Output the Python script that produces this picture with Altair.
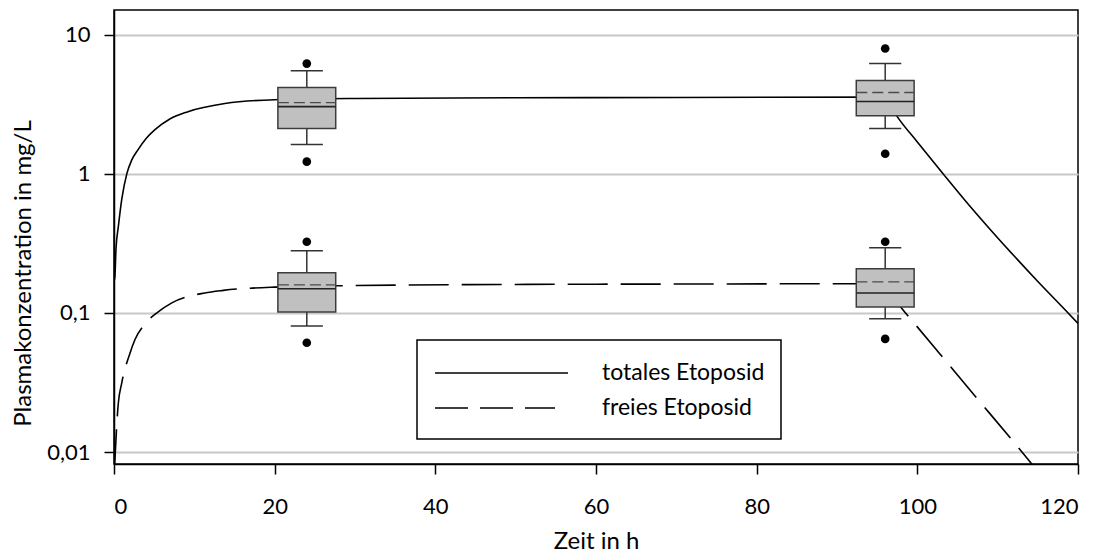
import altair as alt
import pandas as pd

# ---- data ----
total_time = [0, 0.1, 0.25, 0.54, 0.96, 1.6, 2.2, 3.0, 4.0, 5.1, 7.0, 9.2, 13.8, 20, 30, 50, 70, 96, 97.5, 100, 103.2, 106, 109.1, 112, 115, 118, 120]
total_conc = [0.17, 0.179, 0.29, 0.416, 0.65, 1.0, 1.25, 1.49, 1.79, 2.07, 2.48, 2.79, 3.19, 3.40, 3.47, 3.51, 3.53, 3.55, 2.57, 1.69, 1.0, 0.637, 0.396, 0.258, 0.168, 0.111, 0.084]

free_time = [0.05, 0.54, 0.96, 2.0, 2.6, 4.0, 5.5, 7.2, 11.3, 13.6, 20, 30, 50, 70, 96, 98.1, 99.4, 102.6, 107.1, 112, 114.4, 116]
free_conc = [0.0075, 0.0225, 0.0313, 0.0515, 0.064, 0.085, 0.1016, 0.118, 0.139, 0.145, 0.153, 0.157, 0.160, 0.161, 0.162, 0.107, 0.0871, 0.0524, 0.0256, 0.0118, 0.0080, 0.0062]

box_time = [24, 96, 24, 96]
box_q1 = [2.11, 2.61, 0.1016, 0.110]
box_q3 = [4.16, 4.67, 0.194, 0.207]
box_median = [3.03, 3.30, 0.149, 0.139]
box_mean = [3.24, 3.83, 0.159, 0.167]
whisker_lo = [1.62, 2.11, 0.0805, 0.0906]
whisker_hi = [5.5, 6.18, 0.279, 0.294]
outlier_lo = [1.22, 1.39, 0.061, 0.065]
outlier_hi = [6.18, 7.93, 0.324, 0.324]

x_ticks = [0, 20, 40, 60, 80, 100, 120]
y_ticks = [0.01, 0.1, 1, 10]
legend_labels = ["totales Etoposid", "freies Etoposid"]

# ---- styling ----
FONT = "Lato"
FS = 22
FS_TITLE = 24
FS_LEG = 23
BOX_HALF = 3.6   # hours
CAP_HALF = 2.0   # hours

total_df = pd.DataFrame({"t": total_time, "c": total_conc})
free_df = pd.DataFrame({"t": free_time, "c": free_conc})
box_df = pd.DataFrame({
    "t": box_time, "q1": box_q1, "q3": box_q3, "med": box_median, "mean": box_mean,
    "wlo": whisker_lo, "whi": whisker_hi,
})
out_df = pd.DataFrame({
    "t": box_time * 2,
    "v": outlier_lo + outlier_hi,
})

x_scale = alt.Scale(domain=[0, 120], nice=False, zero=False)
y_scale = alt.Scale(type="log", domain=[0.0082, 15], nice=False)

x_axis = alt.Axis(
    values=x_ticks, title="Zeit in h", grid=False, tickSize=10, labelPadding=22,
    labelFont=FONT, labelFontSize=FS, titleFont=FONT, titleFontSize=FS_TITLE,
    titleFontWeight="normal", labelColor="black", titleColor="black",
    domainColor="black", tickColor="black", domainWidth=1.5, tickWidth=1.5,
    titleY=84, titleBaseline="alphabetic",
)
y_axis = alt.Axis(
    values=y_ticks, title="Plasmakonzentration in mg/L", grid=True,
    gridColor="#c8c8c8", gridWidth=2, tickSize=10, labelPadding=14,
    labelExpr="replace(toString(datum.value), '.', ',')",
    labelFont=FONT, labelFontSize=FS, titleFont=FONT, titleFontSize=FS_TITLE,
    titleFontWeight="normal", labelColor="black", titleColor="black",
    domainColor="black", tickColor="black", domainWidth=1.5, tickWidth=1.5,
    titleAngle=270, titleX=-84, titleY=263, titleBaseline="alphabetic", titleAlign="center",
)

def X(field):
    return alt.X(field, type="quantitative", scale=x_scale, axis=x_axis)

def Y(field):
    return alt.Y(field, type="quantitative", scale=y_scale, axis=y_axis)

total_line = alt.Chart(total_df).mark_line(
    color="black", strokeWidth=1.6, interpolate="monotone", clip=True
).encode(x=X("t"), y=Y("c"), order="t:Q")

free_line = alt.Chart(free_df).mark_line(
    color="black", strokeWidth=1.6, interpolate="monotone", clip=True, strokeDash=[40, 13]
).encode(x=X("t"), y=Y("c"), order="t:Q")

box_base = alt.Chart(box_df).transform_calculate(
    bx1=f"datum.t - {BOX_HALF}", bx2=f"datum.t + {BOX_HALF}",
    cx1=f"datum.t - {CAP_HALF}", cx2=f"datum.t + {CAP_HALF}",
)

wh_lo = box_base.mark_rule(color="#333333", strokeWidth=1.5).encode(x=X("t"), y=Y("wlo"), y2="q1:Q")
wh_hi = box_base.mark_rule(color="#333333", strokeWidth=1.5).encode(x=X("t"), y=Y("q3"), y2="whi:Q")
cap_lo = box_base.mark_rule(color="#333333", strokeWidth=1.5).encode(x=X("cx1"), x2="cx2:Q", y=Y("wlo"))
cap_hi = box_base.mark_rule(color="#333333", strokeWidth=1.5).encode(x=X("cx1"), x2="cx2:Q", y=Y("whi"))
boxes = box_base.mark_rect(fill="#c0c0c0", stroke="#3c3c3c", strokeWidth=1.5).encode(
    x=X("bx1"), x2="bx2:Q", y=Y("q1"), y2="q3:Q"
)
medians = box_base.mark_rule(color="#222222", strokeWidth=1.6).encode(x=X("bx1"), x2="bx2:Q", y=Y("med"))
means = box_base.mark_rule(color="#4a4a4a", strokeWidth=1.3, strokeDash=[11, 5]).encode(
    x=X("bx1"), x2="bx2:Q", y=Y("mean")
)
outliers = alt.Chart(out_df).mark_point(filled=True, color="black", size=75, opacity=1).encode(
    x=X("t"), y=Y("v")
)

# ---- legend (drawn inside plot) ----
one = pd.DataFrame({"k": [0]})
leg_box = alt.Chart(one).mark_rect(fill="white", stroke="black", strokeWidth=1.5).encode(
    x=alt.value(303), x2=alt.value(667), y=alt.value(330), y2=alt.value(429)
)
leg_solid = alt.Chart(one).mark_rule(color="black", strokeWidth=1.6).encode(
    x=alt.value(321), x2=alt.value(454), y=alt.value(363)
)
leg_dash = alt.Chart(one).mark_rule(color="black", strokeWidth=1.6, strokeDash=[33, 12]).encode(
    x=alt.value(321), x2=alt.value(441), y=alt.value(398)
)
leg_t1 = alt.Chart(one).mark_text(
    font=FONT, fontSize=FS_LEG, align="left", baseline="middle", color="black"
).encode(x=alt.value(488), y=alt.value(363), text=alt.value(legend_labels[0]))
leg_t2 = alt.Chart(one).mark_text(
    font=FONT, fontSize=FS_LEG, align="left", baseline="middle", color="black"
).encode(x=alt.value(488), y=alt.value(398), text=alt.value(legend_labels[1]))

chart = alt.layer(
    total_line, free_line, wh_lo, wh_hi, cap_lo, cap_hi, boxes, medians, means, outliers,
    leg_box, leg_solid, leg_dash, leg_t1, leg_t2,
).properties(
    width=964, height=454, autosize="none",
    padding={"left": 114, "top": 10, "right": 25, "bottom": 90},
    background="white",
).configure_view(stroke="black", strokeWidth=1.5)

chart.save("out.html", embed_options={"renderer": "svg", "actions": False})
